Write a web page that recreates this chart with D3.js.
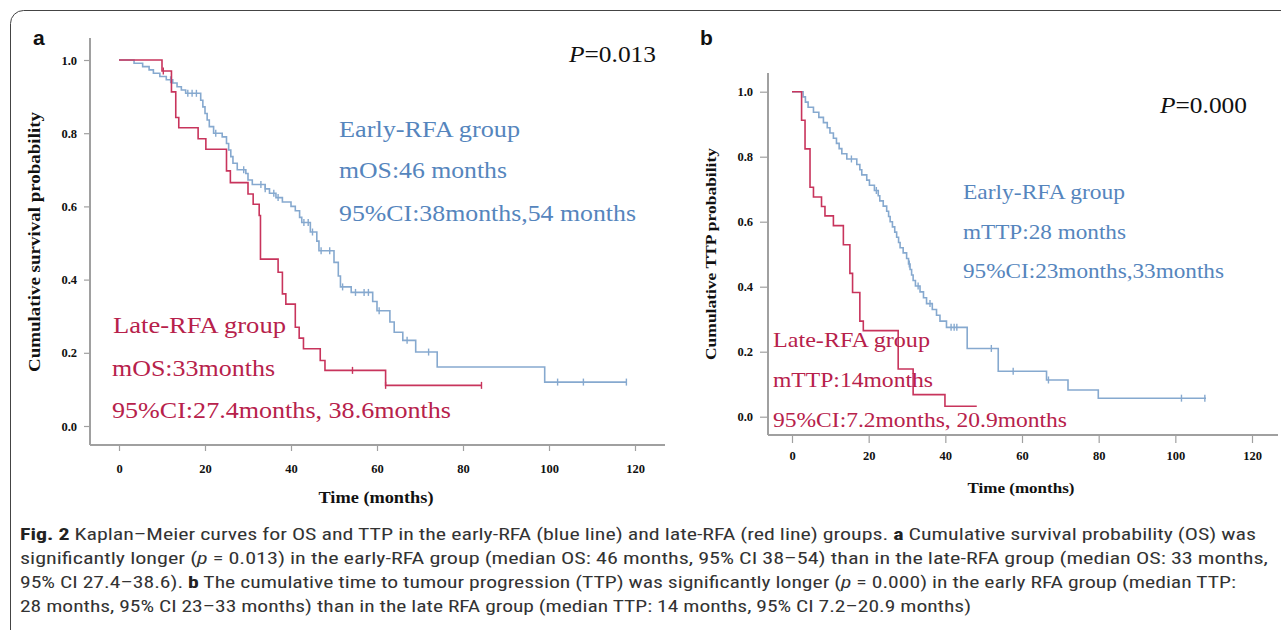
<!DOCTYPE html>
<html>
<head>
<meta charset="utf-8">
<script src="https://cdn.jsdelivr.net/npm/d3@7"></script>
<style>
  html, body { margin: 0; padding: 0; background: #fff; }
  svg { display: block; }
</style>
</head>
<body>
<svg id="chart" width="1281" height="630"></svg>
<script>
// ---------- DATA ----------
const xTicks = [0, 20, 40, 60, 80, 100, 120];
const yTicks = [0, 0.2, 0.4, 0.6, 0.8, 1.0];

// Panel a: overall survival. Steps = [time (months), survival after the drop]
const osEarlySteps = [
  [3.5, 0.991], [5.5, 0.982], [7, 0.973], [8, 0.964], [9.5, 0.955], [11, 0.946],
  [12.5, 0.937], [13.5, 0.927], [14.5, 0.918], [15.5, 0.909], [19, 0.89], [19.5, 0.872],
  [20, 0.854], [20.5, 0.836], [21, 0.818], [22, 0.80], [24, 0.79], [25, 0.772],
  [25.5, 0.754], [26, 0.736], [26.5, 0.718], [27.5, 0.70], [29.5, 0.69], [30, 0.672],
  [31, 0.66], [34, 0.648], [35, 0.636], [36.5, 0.624], [38, 0.612], [40, 0.60],
  [41, 0.588], [42, 0.57], [42.5, 0.556], [44.5, 0.53], [46, 0.505], [46.5, 0.479],
  [50, 0.447], [51, 0.41], [51.5, 0.38], [54, 0.365], [59, 0.34], [60, 0.315],
  [63, 0.284], [64, 0.256], [66, 0.234], [69, 0.202], [74, 0.161], [99, 0.12]
];
const osEarlyCensor = [12, 16, 17, 18, 22.5, 29, 33, 34, 36, 37, 43, 44, 45, 47, 49, 52, 55, 57, 58, 60.5, 67, 72, 102, 108, 118];
const osEarlyEnd = 118;

const osLateSteps = [
  [10.0, 0.970], [12.2, 0.913], [13.2, 0.843], [13.9, 0.815], [18.4, 0.785], [20.2, 0.756],
  [25.0, 0.697], [25.9, 0.665], [30.0, 0.634], [31.2, 0.606], [32.6, 0.575], [32.9, 0.456],
  [37.0, 0.42], [38.0, 0.361], [38.8, 0.333], [41.0, 0.27], [41.9, 0.24], [42.9, 0.211],
  [46.8, 0.179], [47.9, 0.152], [62.0, 0.111]
];
const osLateCensor = [10.3, 54.3, 62.0, 84.3];
const osLateEnd = 84.3;

// Panel b: time to progression
const ttpEarlySteps = [
  [2.9, 0.984], [3.5, 0.968], [4.2, 0.952], [5.6, 0.937], [7, 0.921], [8.2, 0.905],
  [9.2, 0.889], [9.9, 0.873], [10.8, 0.857], [11.6, 0.841], [12.3, 0.825], [13, 0.809],
  [14.3, 0.793], [16.9, 0.776], [17.7, 0.76], [18.2, 0.744], [19.5, 0.728], [20.2, 0.712],
  [21.5, 0.696], [22.5, 0.68], [22.9, 0.664], [23.8, 0.648], [24.7, 0.632], [25.2, 0.616],
  [25.6, 0.6], [26.2, 0.584], [26.8, 0.568], [27.3, 0.552], [27.8, 0.536], [28.2, 0.52],
  [29, 0.504], [29.9, 0.487], [30.4, 0.47], [30.8, 0.453], [31.2, 0.436], [31.6, 0.419],
  [32.2, 0.402], [33.4, 0.384], [34.3, 0.366], [35.1, 0.348], [36.6, 0.33], [37.7, 0.312],
  [38.6, 0.294], [40.3, 0.275], [45.7, 0.21], [53.8, 0.14], [66.4, 0.113], [72, 0.082],
  [79.9, 0.057]
];
const ttpEarlyCensor = [15.5, 22, 30.6, 32.9, 36, 41.5, 42.3, 43, 52, 57.7, 66.9, 101.6, 107.7];
const ttpEarlyEnd = 108;

const ttpLateSteps = [
  [2.5, 0.912], [3.4, 0.824], [4.7, 0.706], [5.6, 0.676], [7.7, 0.647], [8.6, 0.618],
  [10.8, 0.588], [13.4, 0.529], [15.1, 0.441], [15.8, 0.382], [17.7, 0.294], [18.6, 0.265],
  [27.7, 0.147], [31.6, 0.068], [39.9, 0.032]
];
const ttpLateCensor = [];
const ttpLateEnd = 48.2;

// ---------- STYLE ----------
const RED = "#c8345c", RED_TXT = "#b7214b";
const BLUE = "#86a9cf", BLUE_TXT = "#5585bd";
const AXIS = "#a0a0a0";
const SERIF = "'Liberation Serif', 'Times New Roman', serif";

const svg = d3.select("#chart");

// frame
svg.append("rect").attr("x", 10.5).attr("y", 10.5).attr("width", 1400).attr("height", 700)
  .attr("rx", 13).attr("fill", "none").attr("stroke", "#444").attr("stroke-width", 1);

function survAt(steps, t) {
  let v = 1;
  for (const s of steps) { if (s[0] <= t) v = s[1]; }
  return v;
}

function fit(sel, w) {
  return sel.attr("textLength", w).attr("lengthAdjust", "spacingAndGlyphs");
}

function drawPanel(cfg) {
  const g = svg.append("g");
  const x = d3.scaleLinear().domain([0, 120]).range([cfg.x0, cfg.x120]);
  const y = d3.scaleLinear().domain([0, 1]).range([cfg.y0, cfg.y1]);

  // axes
  const xAxis = d3.axisBottom(x).tickValues(xTicks).tickSize(cfg.tickLen).tickFormat(d3.format("d"));
  const yAxis = d3.axisLeft(y).tickValues(yTicks).tickSize(cfg.tickLen).tickFormat(d3.format(".1f"));
  const gx = g.append("g").attr("transform", `translate(0,${cfg.axisY})`).call(xAxis);
  const gy = g.append("g").attr("transform", `translate(${cfg.axisX},0)`).call(yAxis);
  [gx, gy].forEach(a => {
    a.select(".domain").remove();
    a.selectAll(".tick line").attr("stroke", AXIS).attr("stroke-width", 1.2);
    a.selectAll(".tick text").attr("fill", "#111").attr("font-family", SERIF)
      .attr("font-weight", "bold").attr("font-size", cfg.tickFont);
  });
  gx.selectAll(".tick text").attr("dy", cfg.xLabelDy);
  gy.selectAll(".tick text").attr("x", -cfg.tickLen - 7);
  // axis lines
  g.append("line").attr("x1", cfg.axisX).attr("x2", cfg.axisX).attr("y1", cfg.axisTop).attr("y2", cfg.axisY)
    .attr("stroke", AXIS).attr("stroke-width", 2);
  g.append("line").attr("x1", cfg.axisX).attr("x2", cfg.axisRight).attr("y1", cfg.axisY).attr("y2", cfg.axisY)
    .attr("stroke", AXIS).attr("stroke-width", 2);

  // titles
  fit(g.append("text").attr("x", cfg.xTitleX).attr("y", cfg.xTitleY).attr("text-anchor", "middle")
    .attr("font-family", SERIF).attr("font-weight", "bold").attr("font-size", cfg.titleFont)
    .attr("fill", "#111").text("Time (months)"), cfg.xTitleW);
  fit(g.append("text").attr("transform", `translate(${cfg.yTitleX},${cfg.yTitleY}) rotate(-90)`)
    .attr("text-anchor", "middle").attr("font-family", SERIF).attr("font-weight", "bold")
    .attr("font-size", cfg.yTitleFont).attr("fill", "#111").text(cfg.yTitle), cfg.yTitleW);

  // panel letter
  g.append("text").attr("x", cfg.letterX).attr("y", 45).attr("font-family", "'Liberation Sans', Arial, sans-serif")
    .attr("font-weight", "bold").attr("font-size", 21).attr("fill", "#111").text(cfg.letter);

  // curves
  const line = d3.line().x(d => x(d[0])).y(d => y(d[1])).curve(d3.curveStepAfter);
  cfg.series.forEach(s => {
    const pts = [[0, 1], ...s.steps, [s.end, s.steps[s.steps.length - 1][1]]];
    g.append("path").attr("d", line(pts)).attr("fill", "none").attr("stroke", s.color)
      .attr("stroke-width", 1.6);
    g.selectAll(null).data(s.censor).enter().append("line")
      .attr("x1", d => x(d)).attr("x2", d => x(d))
      .attr("y1", d => y(survAt(s.steps, d)) - 3.5).attr("y2", d => y(survAt(s.steps, d)) + 3.5)
      .attr("stroke", s.color).attr("stroke-width", 1.4);
  });

  // p value
  const pt = g.append("text").attr("x", cfg.pX).attr("y", cfg.pY).attr("font-family", SERIF)
    .attr("font-size", cfg.pFont).attr("fill", "#111");
  pt.append("tspan").attr("font-style", "italic").text("P");
  pt.append("tspan").text(cfg.pText);
  fit(pt, 87);

  // annotations
  cfg.notes.forEach(n => {
    fit(g.append("text").attr("x", n.x).attr("y", n.y).attr("font-family", SERIF)
      .attr("font-size", cfg.noteFont).attr("fill", n.color).text(n.text), n.w);
  });
}

drawPanel({
  letter: "a", letterX: 33,
  x0: 119, x120: 635, y0: 426, y1: 60,
  axisX: 90, axisY: 445, axisTop: 38, axisRight: 665, tickLen: 6, tickFont: 12.5, xLabelDy: "1.5em",
  xTitleX: 376, xTitleY: 503, titleFont: 16, xTitleW: 115,
  yTitleX: 40, yTitleY: 242, yTitle: "Cumulative survival probability", yTitleFont: 17.5, yTitleW: 260,
  pX: 569, pY: 62, pText: "=0.013", pFont: 24,
  noteFont: 23.5,
  notes: [
    { x: 339, y: 137, w: 181, text: "Early-RFA group", color: BLUE_TXT },
    { x: 339, y: 178, w: 168, text: "mOS:46 months", color: BLUE_TXT },
    { x: 339, y: 221, w: 297, text: "95%CI:38months,54 months", color: BLUE_TXT },
    { x: 113, y: 333, w: 173, text: "Late-RFA group", color: RED_TXT },
    { x: 112, y: 376, w: 163, text: "mOS:33months", color: RED_TXT },
    { x: 112, y: 418, w: 339, text: "95%CI:27.4months, 38.6months", color: RED_TXT }
  ],
  series: [
    { steps: osEarlySteps, censor: osEarlyCensor, end: osEarlyEnd, color: BLUE },
    { steps: osLateSteps, censor: osLateCensor, end: osLateEnd, color: RED }
  ]
});

drawPanel({
  letter: "b", letterX: 700,
  x0: 792, x120: 1252, y0: 416.7, y1: 91.7,
  axisX: 768, axisY: 435, axisTop: 73, axisRight: 1278, tickLen: 8, tickFont: 12.5, xLabelDy: "1.1em",
  xTitleX: 1021, xTitleY: 493, titleFont: 14, xTitleW: 107,
  yTitleX: 716, yTitleY: 254, yTitle: "Cumulative TTP probability", yTitleFont: 15, yTitleW: 212,
  pX: 1160, pY: 113, pText: "=0.000", pFont: 23,
  noteFont: 21,
  notes: [
    { x: 963, y: 199, w: 162, text: "Early-RFA group", color: BLUE_TXT },
    { x: 963, y: 239, w: 163, text: "mTTP:28 months", color: BLUE_TXT },
    { x: 963, y: 278, w: 261, text: "95%CI:23months,33months", color: BLUE_TXT },
    { x: 773, y: 347, w: 157, text: "Late-RFA group", color: RED_TXT },
    { x: 773, y: 387, w: 160, text: "mTTP:14months", color: RED_TXT },
    { x: 773, y: 427, w: 294, text: "95%CI:7.2months, 20.9months", color: RED_TXT }
  ],
  series: [
    { steps: ttpEarlySteps, censor: ttpEarlyCensor, end: ttpEarlyEnd, color: BLUE },
    { steps: ttpLateSteps, censor: ttpLateCensor, end: ttpLateEnd, color: RED }
  ]
});

// ---------- CAPTION ----------
const CAP = "'Liberation Sans Narrow', 'Roboto Condensed', 'Open Sans', sans-serif";
const capLines = [
  { y: 540, w: 1236, parts: [["Fig. 2", "b"], ["  Kaplan–Meier curves for OS and TTP in the early-RFA (blue line) and late-RFA (red line) groups. ", ""], ["a", "b"], [" Cumulative survival probability (OS) was", ""]] },
  { y: 564, w: 1248, parts: [["significantly longer (", ""], ["p", "i"], [" = 0.013) in the early-RFA group (median OS: 46 months, 95% CI 38–54) than in the late-RFA group (median OS: 33 months,", ""]] },
  { y: 588, w: 1216, parts: [["95% CI 27.4–38.6). ", ""], ["b", "b"], [" The cumulative time to tumour progression (TTP) was significantly longer (", ""], ["p", "i"], [" = 0.000) in the early RFA group (median TTP:", ""]] },
  { y: 612, w: 951, parts: [["28 months, 95% CI 23–33 months) than in the late RFA group (median TTP: 14 months, 95% CI 7.2–20.9 months)", ""]] }
];
capLines.forEach(l => {
  const t = fit(svg.append("text").attr("x", 20).attr("y", l.y).attr("font-family", CAP)
    .attr("font-size", 17).attr("fill", "#333"), l.w);
  l.parts.forEach(p => {
    const ts = t.append("tspan").text(p[0]);
    if (p[1] === "b") ts.attr("font-weight", "bold").attr("fill", "#222");
    if (p[1] === "i") ts.attr("font-style", "italic");
  });
});
</script>
</body>
</html>
